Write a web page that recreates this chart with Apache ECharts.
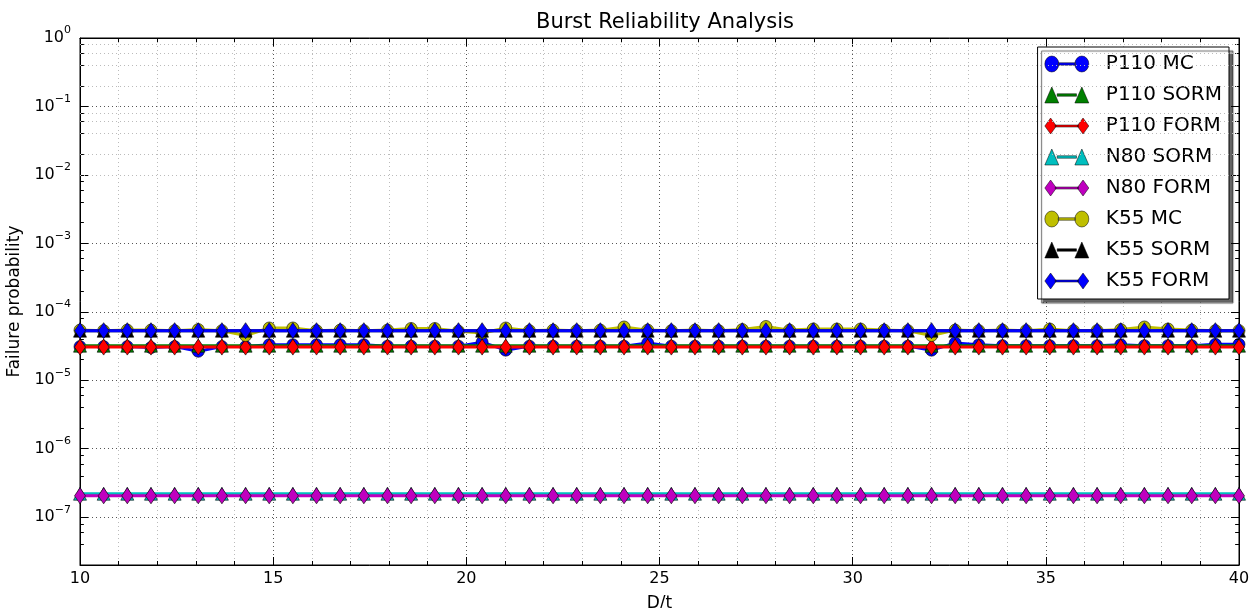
<!DOCTYPE html>
<html><head><meta charset="utf-8">
<script src="https://cdn.jsdelivr.net/npm/echarts@6/dist/echarts.min.js"></script>
<style>html,body{margin:0;padding:0;background:#fff;overflow:hidden}#c{width:1250px;height:608px}</style>
</head><body><div id="c"></div><script>
// D/t sample points (50 points from 10 to 40)
const dt = [10.000,10.612,11.224,11.837,12.449,13.061,13.673,14.286,14.898,15.510,
  16.122,16.735,17.347,17.959,18.571,19.184,19.796,20.408,21.020,21.633,
  22.245,22.857,23.469,24.082,24.694,25.306,25.918,26.531,27.143,27.755,
  28.367,28.980,29.592,30.204,30.816,31.429,32.041,32.653,33.265,33.878,
  34.490,35.102,35.714,36.327,36.939,37.551,38.163,38.776,39.388,40.000];
const p110MC = [3.1e-5,3.1e-5,3.1e-5,3.0e-5,3.1e-5,2.65e-5,3.1e-5,3.1e-5,3.3e-5,3.3e-5,
  3.3e-5,3.3e-5,3.3e-5,3.15e-5,3.15e-5,3.15e-5,3.15e-5,3.6e-5,2.75e-5,3.15e-5,
  3.15e-5,3.15e-5,3.15e-5,3.15e-5,3.5e-5,3.15e-5,3.15e-5,3.15e-5,3.15e-5,3.15e-5,
  3.15e-5,3.15e-5,3.15e-5,3.15e-5,3.15e-5,3.15e-5,2.75e-5,3.5e-5,3.3e-5,3.2e-5,
  3.2e-5,3.2e-5,3.2e-5,3.2e-5,3.3e-5,3.2e-5,3.2e-5,3.2e-5,3.35e-5,3.35e-5];
const p110SORM = [3.2e-5,3.2e-5,3.2e-5,3.2e-5,3.2e-5,3.2e-5,3.2e-5,3.2e-5,3.2e-5,3.2e-5,
  3.2e-5,3.2e-5,3.2e-5,3.2e-5,3.2e-5,3.2e-5,3.2e-5,3.2e-5,3.2e-5,3.2e-5,
  3.2e-5,3.2e-5,3.2e-5,3.2e-5,3.2e-5,3.2e-5,3.2e-5,3.2e-5,3.2e-5,3.2e-5,
  3.2e-5,3.2e-5,3.2e-5,3.2e-5,3.2e-5,3.2e-5,3.2e-5,3.2e-5,3.2e-5,3.2e-5,
  3.2e-5,3.2e-5,3.2e-5,3.2e-5,3.2e-5,3.2e-5,3.2e-5,3.2e-5,3.2e-5,3.2e-5];
const p110FORM = [3.05e-5,3.05e-5,3.05e-5,3.05e-5,3.05e-5,3.05e-5,3.05e-5,3.05e-5,3.05e-5,3.05e-5,
  3.05e-5,3.05e-5,3.05e-5,3.05e-5,3.05e-5,3.05e-5,3.05e-5,3.05e-5,3.05e-5,3.05e-5,
  3.05e-5,3.05e-5,3.05e-5,3.05e-5,3.05e-5,3.05e-5,3.05e-5,3.05e-5,3.05e-5,3.05e-5,
  3.05e-5,3.05e-5,3.05e-5,3.05e-5,3.05e-5,3.05e-5,3.05e-5,3.05e-5,3.05e-5,3.05e-5,
  3.05e-5,3.05e-5,3.05e-5,3.05e-5,3.05e-5,3.05e-5,3.05e-5,3.05e-5,3.05e-5,3.05e-5];
const n80SORM = [2.2e-7,2.2e-7,2.2e-7,2.2e-7,2.2e-7,2.2e-7,2.2e-7,2.2e-7,2.2e-7,2.2e-7,
  2.2e-7,2.2e-7,2.2e-7,2.2e-7,2.2e-7,2.2e-7,2.2e-7,2.2e-7,2.2e-7,2.2e-7,
  2.2e-7,2.2e-7,2.2e-7,2.2e-7,2.2e-7,2.2e-7,2.2e-7,2.2e-7,2.2e-7,2.2e-7,
  2.2e-7,2.2e-7,2.2e-7,2.2e-7,2.2e-7,2.2e-7,2.2e-7,2.2e-7,2.2e-7,2.2e-7,
  2.2e-7,2.2e-7,2.2e-7,2.2e-7,2.2e-7,2.2e-7,2.2e-7,2.2e-7,2.2e-7,2.2e-7];
const n80FORM = [2.05e-7,2.05e-7,2.05e-7,2.05e-7,2.05e-7,2.05e-7,2.05e-7,2.05e-7,2.05e-7,2.05e-7,
  2.05e-7,2.05e-7,2.05e-7,2.05e-7,2.05e-7,2.05e-7,2.05e-7,2.05e-7,2.05e-7,2.05e-7,
  2.05e-7,2.05e-7,2.05e-7,2.05e-7,2.05e-7,2.05e-7,2.05e-7,2.05e-7,2.05e-7,2.05e-7,
  2.05e-7,2.05e-7,2.05e-7,2.05e-7,2.05e-7,2.05e-7,2.05e-7,2.05e-7,2.05e-7,2.05e-7,
  2.05e-7,2.05e-7,2.05e-7,2.05e-7,2.05e-7,2.05e-7,2.05e-7,2.05e-7,2.05e-7,2.05e-7];
const k55MC = [5.4e-5,5.3e-5,5.4e-5,5.4e-5,5.3e-5,5.5e-5,5.3e-5,4.5e-5,5.8e-5,5.8e-5,
  5.3e-5,5.4e-5,5.3e-5,5.4e-5,5.7e-5,5.7e-5,5.2e-5,4.9e-5,5.8e-5,5.3e-5,
  5.4e-5,5.3e-5,5.4e-5,6.0e-5,5.4e-5,5.3e-5,5.4e-5,5.3e-5,5.5e-5,6.1e-5,
  5.4e-5,5.6e-5,5.6e-5,5.6e-5,5.4e-5,5.3e-5,4.5e-5,5.4e-5,5.3e-5,5.4e-5,
  5.3e-5,5.6e-5,5.3e-5,5.3e-5,5.5e-5,6.0e-5,5.6e-5,5.4e-5,5.3e-5,5.3e-5];
const k55SORM = [5.3e-5,5.3e-5,5.3e-5,5.3e-5,5.3e-5,5.3e-5,5.3e-5,5.3e-5,5.3e-5,5.3e-5,
  5.3e-5,5.3e-5,5.3e-5,5.3e-5,5.3e-5,5.3e-5,5.3e-5,5.3e-5,5.3e-5,5.3e-5,
  5.3e-5,5.3e-5,5.3e-5,5.3e-5,5.3e-5,5.3e-5,5.3e-5,5.3e-5,5.3e-5,5.3e-5,
  5.3e-5,5.3e-5,5.3e-5,5.3e-5,5.3e-5,5.3e-5,5.3e-5,5.3e-5,5.3e-5,5.3e-5,
  5.3e-5,5.3e-5,5.3e-5,5.3e-5,5.3e-5,5.3e-5,5.3e-5,5.3e-5,5.3e-5,5.3e-5];
const k55FORM = [5.3e-5,5.3e-5,5.3e-5,5.3e-5,5.3e-5,5.3e-5,5.3e-5,5.3e-5,5.3e-5,5.3e-5,
  5.3e-5,5.3e-5,5.3e-5,5.3e-5,5.3e-5,5.3e-5,5.3e-5,5.3e-5,5.3e-5,5.3e-5,
  5.3e-5,5.3e-5,5.3e-5,5.3e-5,5.3e-5,5.3e-5,5.3e-5,5.3e-5,5.3e-5,5.3e-5,
  5.3e-5,5.3e-5,5.3e-5,5.3e-5,5.3e-5,5.3e-5,5.3e-5,5.3e-5,5.3e-5,5.3e-5,
  5.3e-5,5.3e-5,5.3e-5,5.3e-5,5.3e-5,5.3e-5,5.3e-5,5.3e-5,5.3e-5,5.3e-5];
const seriesNames = ['P110 MC','P110 SORM','P110 FORM','N80 SORM','N80 FORM','K55 MC','K55 SORM','K55 FORM'];
const xTicks = [10, 15, 20, 25, 30, 35, 40];
const yMin = 2e-8, yMax = 1;

const FONT = 'DejaVu Sans';
const colors = ['#0000ff','#008000','#ff0000','#00bfbf','#bf00bf','#bfbf00','#000000','#0000ff'];
const kinds = ['circle','triangle','diamond','triangle','diamond','circle','triangle','diamond'];
const values = [p110MC,p110SORM,p110FORM,n80SORM,n80FORM,k55MC,k55SORM,k55FORM];
const symSize = {circle: 12, triangle: [13, 13], diamond: [11, 16]};
// legend icons: line with a marker at each end, on a 44x16 box
const icons = {
  circle: 'path://M1.5,8A6.5,6.5 0 1 0 14.5,8A6.5,6.5 0 1 0 1.5,8ZM14,7L30,7L30,9L14,9ZM29.5,8A6.5,6.5 0 1 0 42.5,8A6.5,6.5 0 1 0 29.5,8Z',
  triangle: 'path://M8,1.5L14.5,14.5L1.5,14.5ZM13,7L31,7L31,9L13,9ZM36,1.5L42.5,14.5L29.5,14.5Z',
  diamond: 'path://M8,0L13,8L8,16L3,8ZM12,7L32,7L32,9L12,9ZM36,0L41,8L36,16L31,8Z'
};

// minor y grid positions 2,4,6,8 x 10^k
const yMinor = [];
for (let k = -8; k < 0; k++) for (const m of [2,4,6,8]) { const v = m * Math.pow(10, k); if (v > yMin * 1.01 && v < yMax) yMinor.push(v); }

const series = seriesNames.map((name, i) => ({
  name, type: 'line', data: dt.map((x, j) => [x, values[i][j]]),
  symbol: kinds[i], symbolSize: symSize[kinds[i]], showSymbol: true, showAllSymbol: true,
  lineStyle: {color: colors[i], width: 3},
  itemStyle: {color: colors[i], borderColor: '#000', borderWidth: 0.6},
  emphasis: {disabled: true}, z: 2 + i
}));
series.unshift({
  name: '_grid', type: 'line', data: [[10, 1e-3]], symbol: 'none', lineStyle: {width: 0, opacity: 0},
  silent: true, z: 1,
  markLine: {
    silent: true, symbol: 'none', animation: false, label: {show: false},
    lineStyle: {color: '#bbbbbb', type: [1, 3], width: 1},
    data: yMinor.map(v => ({yAxis: v}))
  }
});
series.unshift({
  name: '_ticks', type: 'line', data: [[10, 1e-3]], symbol: 'none', lineStyle: {width: 0, opacity: 0},
  silent: true, z: 3,
  markLine: {
    silent: true, symbol: 'none', animation: false, label: {show: false},
    lineStyle: {color: '#000', type: 'solid', width: 1},
    data: yMinor.map(v => [{coord: [10, v]}, {coord: [10.1, v]}]).concat(
          yMinor.map(v => [{coord: [39.9, v]}, {coord: [40, v]}]))
  }
});

const chart = echarts.init(document.getElementById('c'), null, {renderer: 'canvas', width: 1250, height: 608});
chart.setOption({
  animation: false,
  backgroundColor: '#fff',
  textStyle: {fontFamily: FONT, color: '#000'},
  title: {
    text: 'Burst Reliability Analysis', left: 660, textAlign: 'center', top: 7,
    textStyle: {fontFamily: FONT, fontSize: 21, fontWeight: 'normal', color: '#000'}
  },
  grid: {left: 80, right: 11, top: 38, bottom: 43, show: true, borderColor: '#000', borderWidth: 1,
    containLabel: false, outerBoundsMode: 'none'},
  legend: {
    data: seriesNames.map((n, i) => ({name: n, icon: icons[kinds[i]], itemStyle: {color: colors[i], borderColor: '#000', borderWidth: 0.5}})),
    orient: 'vertical', right: 21, top: 47, itemWidth: 44, itemHeight: 16, itemGap: 11,
    padding: [7, 7, 8, 7], symbolKeepAspect: false,
    backgroundColor: '#fff', borderColor: '#000', borderWidth: 1,
    shadowColor: 'rgba(0,0,0,0.6)', shadowOffsetX: 4, shadowOffsetY: 4, shadowBlur: 1,
    textStyle: {fontFamily: FONT, fontSize: 20, color: '#000', padding: [0, 0, 0, 12]},
    selectedMode: false
  },
  xAxis: [{
    type: 'value', min: 10, max: 40, interval: 5,
    name: 'D/t', nameLocation: 'middle', nameGap: 30,
    nameTextStyle: {fontFamily: FONT, fontSize: 17, color: '#000'},
    axisLine: {lineStyle: {color: '#000', width: 1}},
    axisTick: {inside: true, length: 8, lineStyle: {color: '#000'}},
    minorTick: {show: true, splitNumber: 5, length: 4, lineStyle: {color: '#000'}},
    axisLabel: {fontFamily: FONT, fontSize: 16, color: '#000', margin: 6,
      formatter: v => xTicks.includes(v) ? String(v) : ''},
    splitLine: {show: true, lineStyle: {color: '#555', type: [1, 3], width: 1}},
    minorSplitLine: {show: true, lineStyle: {color: '#bbbbbb', type: [1, 3], width: 1}}
  }, {
    type: 'value', min: 10, max: 40, interval: 5, position: 'top',
    axisLine: {lineStyle: {color: '#000', width: 1}},
    axisTick: {inside: true, length: 8, lineStyle: {color: '#000'}},
    minorTick: {show: true, splitNumber: 5, length: 4, lineStyle: {color: '#000'}},
    axisLabel: {show: false}, splitLine: {show: false}
  }],
  yAxis: [{
    type: 'log', logBase: 10, min: yMin, max: yMax,
    name: 'Failure probability', nameLocation: 'middle', nameGap: 43,
    nameTextStyle: {fontFamily: FONT, fontSize: 17, color: '#000'},
    axisLine: {lineStyle: {color: '#000', width: 1}},
    axisTick: {inside: true, length: 8, lineStyle: {color: '#000'}},
    axisLabel: {
      margin: 9, color: '#000',
      formatter: function (v) {
        const e = Math.log10(v), r = Math.round(e);
        if (Math.abs(e - r) > 1e-6) return '';
        return '{b|10}{s|' + (r < 0 ? '\u2212' : '') + Math.abs(r) + '}';
      },
      rich: {
        b: {fontFamily: FONT, fontSize: 16, color: '#000', lineHeight: 26, verticalAlign: 'middle'},
        s: {fontFamily: FONT, fontSize: 11, color: '#000', verticalAlign: 'top'}
      }
    },
    splitLine: {show: true, lineStyle: {color: '#555', type: [1, 3], width: 1}}
  }, {
    type: 'log', logBase: 10, min: yMin, max: yMax, position: 'right',
    axisLine: {lineStyle: {color: '#000', width: 1}},
    axisTick: {inside: true, length: 8, lineStyle: {color: '#000'}},
    axisLabel: {show: false}, splitLine: {show: false}
  }],
  series
});
</script></body></html>
